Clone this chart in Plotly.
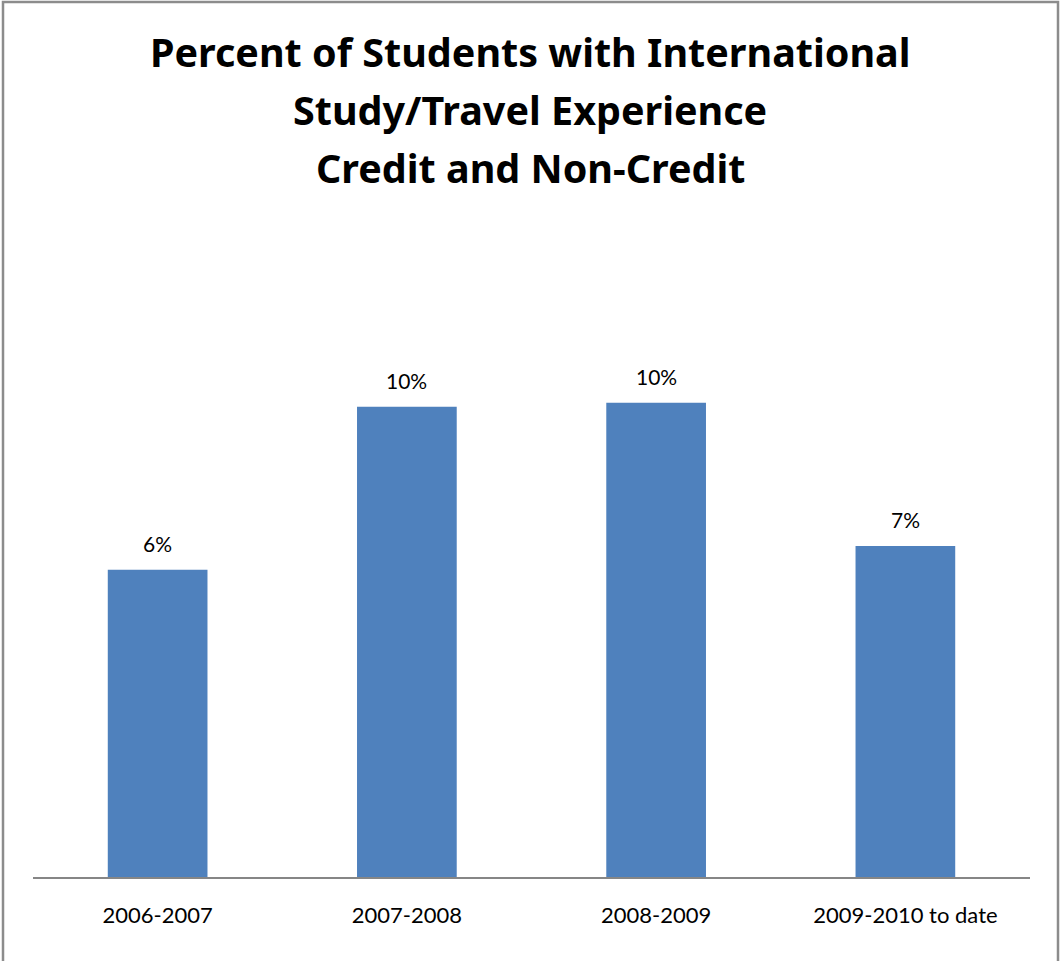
import plotly.graph_objects as go

categories = ["2006-2007", "2007-2008", "2008-2009", "2009-2010 to date"]
values = [0.0648, 0.0992, 0.1000, 0.0698]
title_lines = ["Percent of Students with International", "Study/Travel Experience", "Credit and Non-Credit"]

W, H = 1060, 961
ml, mr, mt, mb = 33, 30, 308, 84
pw = W - ml - mr
ph = H - mt - mb

FONT = "Lato, Carlito, Calibri, sans-serif"
TFONT = "Noto Sans, Lato, sans-serif"

fig = go.Figure()
fig.add_trace(go.Bar(
    x=categories, y=values,
    marker=dict(color="#4F81BD", line=dict(width=0)),
    width=0.4,
    hoverinfo="skip",
))

for c, v in zip(categories, values):
    fig.add_annotation(x=c, y=v, text=f"{v:.0%}", showarrow=False,
                       yanchor="bottom", yshift=12,
                       font=dict(family=FONT, size=21, color="#000000"))

# title lines (centres in pixels from top)
title_centres = [52, 110, 168]
for line, cy in zip(title_lines, title_centres):
    fig.add_annotation(xref="paper", yref="paper", x=(W / 2 - ml) / pw, y=1 + (mt - cy) / ph,
                       text=f"<b>{line}</b>", showarrow=False, xanchor="center", yanchor="middle",
                       font=dict(family=TFONT, size=39.5, color="#000000"))

# chart border (bottom edge falls outside the picture, as in the reference)
fig.add_shape(type="rect", xref="paper", yref="paper",
              x0=(3 - ml) / pw, x1=(W - 2 - ml) / pw,
              y0=-(mb + 10) / ph, y1=1 + (mt - 2) / ph,
              line=dict(color="#8C8C8C", width=2.5), fillcolor="rgba(0,0,0,0)", layer="below")

fig.update_layout(
    width=W, height=H,
    margin=dict(l=ml, r=mr, t=mt, b=mb),
    paper_bgcolor="white", plot_bgcolor="white",
    showlegend=False,
    bargap=0.6,
    xaxis=dict(showline=True, linecolor="#868686", linewidth=1.5, ticks="",
               tickfont=dict(family=FONT, size=22, color="#000000"),
               showgrid=False, zeroline=False, ticklabelstandoff=18),
    yaxis=dict(range=[0, 0.12], visible=False, showgrid=False, zeroline=False),
)

fig.write_html("out.html", config={"displayModeBar": False},
               post_script="document.body.style.margin='0';document.body.style.overflow='hidden';")
